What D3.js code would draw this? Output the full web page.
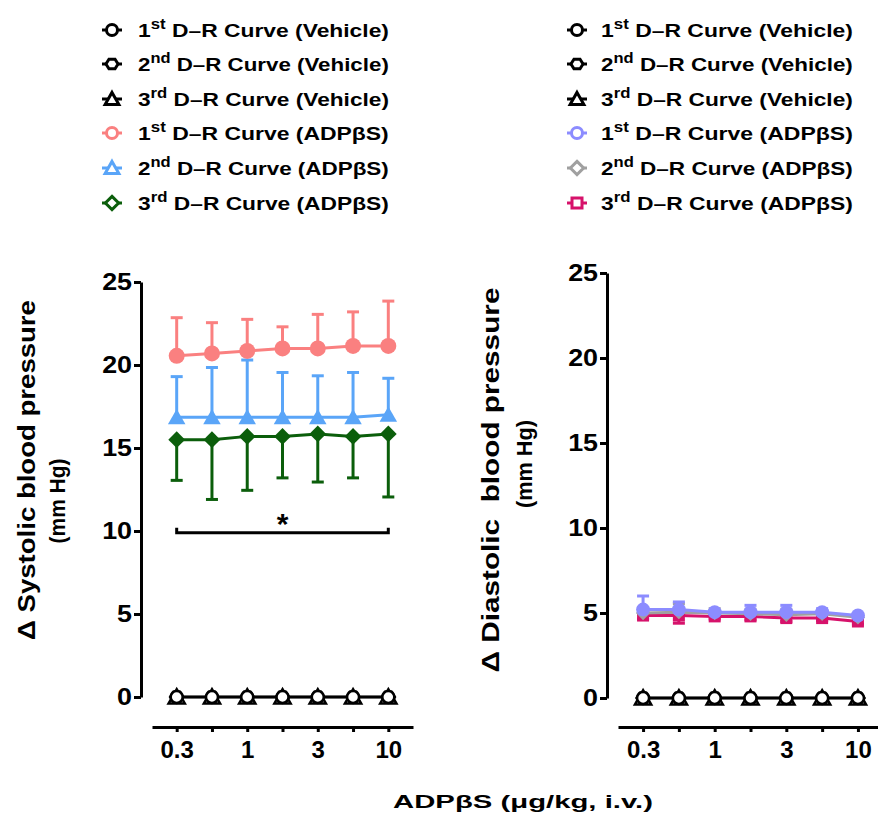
<!DOCTYPE html>
<html>
<head>
<meta charset="utf-8">
<script src="https://cdn.jsdelivr.net/npm/d3@7"></script>
<style>
  body { margin: 0; background: #fff; }
  svg text { font-family: "Liberation Sans", Arial, sans-serif; font-weight: bold; fill: #000; }
</style>
</head>
<body>
<div id="chart"></div>
<script>
// doses (ug/kg, i.v.), evenly spaced on the plot
const doses = ["0.3", "0.56", "1", "1.8", "3", "5.6", "10"];
const doseTicks = ["0.3", "1", "3", "10"];
const yTicks = [0, 5, 10, 15, 20, 25];

// systolic (left panel)
const sysVehicle1 = [0, 0, 0, 0, 0, 0, 0];
const sysVehicle2 = [0, 0, 0, 0, 0, 0, 0];
const sysVehicle3 = [0, 0, 0, 0, 0, 0, 0];
const sysAdp1 = [20.55, 20.7, 20.85, 21.0, 21.0, 21.15, 21.15];
const sysAdp1Err = [2.3, 1.85, 1.9, 1.3, 2.05, 2.05, 2.7];
const sysAdp2 = [16.85, 16.85, 16.85, 16.85, 16.85, 16.85, 17.0];
const sysAdp2Err = [2.45, 3.0, 3.45, 2.7, 2.5, 2.7, 2.2];
const sysAdp3 = [15.5, 15.5, 15.7, 15.7, 15.85, 15.7, 15.85];
const sysAdp3Err = [2.45, 3.6, 3.25, 2.5, 2.9, 2.5, 3.8];
const sysSignif = 9.9;

// diastolic (right panel)
const diaVehicle1 = [0, 0, 0, 0, 0, 0, 0];
const diaVehicle2 = [0, 0, 0, 0, 0, 0, 0];
const diaVehicle3 = [0, 0, 0, 0, 0, 0, 0];
const diaAdp1 = [5.2, 5.2, 5.05, 5.05, 5.05, 5.05, 4.85];
const diaAdp1Err = [0.8, 0.45, 0.1, 0.4, 0.4, 0.2, 0.05];
const diaAdp2 = [5.0, 5.05, 5.0, 4.95, 4.9, 4.95, 4.75];
const diaAdp2Err = [0.3, 0.5, 0.25, 0.25, 0.3, 0.2, 0.1];
const diaAdp3 = [4.85, 4.85, 4.8, 4.8, 4.7, 4.7, 4.5];
const diaAdp3Err = [0.2, 0.45, 0.15, 0.2, 0.2, 0.15, 0.15];

const ordinals = ["1", "2", "3"];
const sups = ["st", "nd", "rd"];

const svg = d3.select("#chart").append("svg")
    .attr("width", 878)
    .attr("height", 818);

// marker shapes, r = nominal radius
const markerPath = (shape, r) => {
    if (shape === "circle") return d3.symbol(d3.symbolCircle, Math.PI * r * r)();
    if (shape === "hexagon") {
        const pts = d3.range(6).map(i => [r * 1.1 * Math.cos(i * Math.PI / 3), r * Math.sin(i * Math.PI / 3)]);
        return "M" + pts.join("L") + "Z";
    }
    if (shape === "triangle") return `M0,${-r * 1.2}L${r * 1.25},${r}L${-r * 1.25},${r}Z`;
    if (shape === "diamond") return `M0,${-r * 1.2}L${r * 1.2},0L0,${r * 1.2}L${-r * 1.2},0Z`;
    if (shape === "square") return `M${-r},${-r}H${r}V${r}H${-r}Z`;
};

// stretch text along its own baseline to a target width
const fitText = (sel, w) => {
    sel.each(function() {
        const n = this.getComputedTextLength();
        const t = d3.select(this);
        t.attr("transform", (t.attr("transform") || "") + ` scale(${w / n},1)`);
    });
};

const drawPanel = (cfg) => {
    const x = d3.scalePoint().domain(doses).range(cfg.xRange).padding(0.7);
    const y = d3.scaleLinear().domain([0, 25]).range(cfg.yRange);
    const g = svg.append("g");

    // y axis
    const ya = g.append("g")
        .attr("transform", `translate(${cfg.yAxisX},0)`)
        .call(d3.axisLeft(y).tickValues(yTicks).tickSize(7).tickSizeOuter(0).tickPadding(1));
    ya.selectAll("path,line").attr("stroke", "#000").attr("stroke-width", 3);
    ya.selectAll("text").style("font-size", "24px").attr("transform", "scale(1.12,1)");

    // x axis
    const xa = g.append("g")
        .attr("transform", `translate(0,${cfg.xAxisY})`)
        .call(d3.axisBottom(x).tickSize(5).tickSizeOuter(0).tickPadding(9)
            .tickFormat(d => doseTicks.includes(d) ? d : ""));
    xa.selectAll("path,line").attr("stroke", "#000").attr("stroke-width", 3);
    xa.selectAll("text").style("font-size", "24px");

    // significance bracket
    if (cfg.signif !== undefined) {
        const x0 = x(doses[0]), x1 = x(doses[doses.length - 1]), yy = y(cfg.signif);
        g.append("path")
            .attr("d", `M${x0},${yy - 5}V${yy}H${x1}V${yy - 5}`)
            .attr("fill", "none").attr("stroke", "#000").attr("stroke-width", 3);
        g.append("text")
            .attr("x", (x0 + x1) / 2).attr("y", yy + 1)
            .attr("text-anchor", "middle")
            .style("font-size", "30px")
            .text("*");
    }

    const line = d3.line().x((d, i) => x(doses[i])).y(d => y(d));
    cfg.series.forEach(s => {
        const sg = g.append("g");
        sg.append("path")
            .datum(s.values)
            .attr("d", line)
            .attr("fill", "none")
            .attr("stroke", s.color)
            .attr("stroke-width", s.lw || 3);
        if (s.err) {
            const eb = sg.selectAll(".err").data(s.values).join("g");
            eb.append("line")
                .attr("x1", (d, i) => x(doses[i])).attr("x2", (d, i) => x(doses[i]))
                .attr("y1", d => y(d))
                .attr("y2", (d, i) => y(d + s.dir * s.err[i]));
            eb.append("line")
                .attr("x1", (d, i) => x(doses[i]) - 6).attr("x2", (d, i) => x(doses[i]) + 6)
                .attr("y1", (d, i) => y(d + s.dir * s.err[i]))
                .attr("y2", (d, i) => y(d + s.dir * s.err[i]));
            eb.selectAll("line").attr("stroke", s.color).attr("stroke-width", 3);
        }
        sg.selectAll(".mk").data(s.values).join("path")
            .attr("transform", (d, i) => `translate(${x(doses[i])},${y(d)})`)
            .attr("d", markerPath(s.shape, s.r))
            .attr("fill", s.fill)
            .attr("stroke", s.color)
            .attr("stroke-width", s.sw || 0);
    });

    // y title, two lines
    cfg.titles.forEach(t => {
        const tt = g.append("text")
            .attr("transform", `translate(${t.x},${t.y}) rotate(-90)`)
            .attr("text-anchor", "middle")
            .attr("dominant-baseline", "central")
            .attr("font-size", t.size)
            .style("white-space", "pre")
            .text(t.text);
        fitText(tt, t.w);
    });

    // legend
    cfg.legend.forEach((l, i) => {
        const ly = cfg.legendY[i];
        const lg = g.append("g").attr("transform", `translate(${cfg.legendX},${ly})`);
        lg.append("line").attr("x1", -10).attr("x2", 10)
            .attr("stroke", l.color).attr("stroke-width", 3);
        lg.append("path")
            .attr("d", markerPath(l.shape, l.shape === "square" ? 5 : 5.5))
            .attr("fill", "#fff").attr("stroke", l.color).attr("stroke-width", 3);
        const t = lg.append("text")
            .attr("transform", `translate(${cfg.legendTextX - cfg.legendX},7)`)
            .style("font-size", "19px");
        t.append("tspan").text(ordinals[l.n]);
        t.append("tspan").attr("dy", -8).style("font-size", "14px").text(sups[l.n]);
        t.append("tspan").attr("dy", 8).text(" D\u2013R Curve (" + l.group + ")");
        fitText(t, cfg.legendW);
    });
};

const vehicleSeries = (v1, v2, v3) => [
    {values: v3, shape: "triangle", r: 6.5, color: "#000", fill: "#fff", sw: 2.5, lw: 2.5},
    {values: v2, shape: "hexagon", r: 6, color: "#000", fill: "#fff", sw: 2.5, lw: 2.5},
    {values: v1, shape: "circle", r: 6, color: "#000", fill: "#fff", sw: 2.5, lw: 2.5}
];

drawPanel({
    xRange: [152, 413], yRange: [697, 282], yAxisX: 141, xAxisY: 727,
    signif: sysSignif,
    series: vehicleSeries(sysVehicle1, sysVehicle2, sysVehicle3).concat([
        {values: sysAdp3, err: sysAdp3Err, dir: -1, shape: "diamond", r: 7, color: "#0B5E0B", fill: "#0B5E0B"},
        {values: sysAdp2, err: sysAdp2Err, dir: 1, shape: "triangle", r: 7, color: "#5AA5F8", fill: "#5AA5F8"},
        {values: sysAdp1, err: sysAdp1Err, dir: 1, shape: "circle", r: 8, color: "#FA8080", fill: "#FA8080"}
    ]),
    titles: [
        {x: 27, y: 470, w: 340, size: 23, text: "\u0394 Systolic blood pressure"},
        {x: 58, y: 501, w: 85, size: 22, text: "(mm Hg)"}
    ],
    legendX: 112, legendTextX: 138, legendW: 251,
    legendY: [30, 64, 99, 133, 168, 203],
    legend: [
        {n: 0, group: "Vehicle", shape: "circle", color: "#000"},
        {n: 1, group: "Vehicle", shape: "hexagon", color: "#000"},
        {n: 2, group: "Vehicle", shape: "triangle", color: "#000"},
        {n: 0, group: "ADP\u03B2S", shape: "circle", color: "#FA8080"},
        {n: 1, group: "ADP\u03B2S", shape: "triangle", color: "#5AA5F8"},
        {n: 2, group: "ADP\u03B2S", shape: "diamond", color: "#0B5E0B"}
    ]
});

drawPanel({
    xRange: [618, 883], yRange: [698, 273], yAxisX: 607, xAxisY: 727,
    series: vehicleSeries(diaVehicle1, diaVehicle2, diaVehicle3).concat([
        {values: diaAdp3, err: diaAdp3Err, dir: -1, shape: "square", r: 6, color: "#D6126B", fill: "#D6126B"},
        {values: diaAdp2, err: diaAdp2Err, dir: 1, shape: "diamond", r: 6, color: "#A0A0A0", fill: "#A0A0A0"},
        {values: diaAdp1, err: diaAdp1Err, dir: 1, shape: "circle", r: 7, color: "#8C8CFF", fill: "#8C8CFF"}
    ]),
    titles: [
        {x: 491, y: 480, w: 385, size: 23, text: "\u0394 Diastolic  blood pressure"},
        {x: 524, y: 464, w: 88, size: 22, text: "(mm Hg)"}
    ],
    legendX: 577, legendTextX: 601, legendW: 252,
    legendY: [30, 64, 99, 133, 168, 203],
    legend: [
        {n: 0, group: "Vehicle", shape: "circle", color: "#000"},
        {n: 1, group: "Vehicle", shape: "hexagon", color: "#000"},
        {n: 2, group: "Vehicle", shape: "triangle", color: "#000"},
        {n: 0, group: "ADP\u03B2S", shape: "circle", color: "#8C8CFF"},
        {n: 1, group: "ADP\u03B2S", shape: "diamond", color: "#A0A0A0"},
        {n: 2, group: "ADP\u03B2S", shape: "square", color: "#D6126B"}
    ]
});

// shared x title
const xt = svg.append("text")
    .attr("transform", "translate(523,808)")
    .attr("text-anchor", "middle")
    .style("font-size", "19px")
    .text("ADP\u03B2S (\u03BCg/kg, i.v.)");
fitText(xt, 260);
</script>
</body>
</html>
